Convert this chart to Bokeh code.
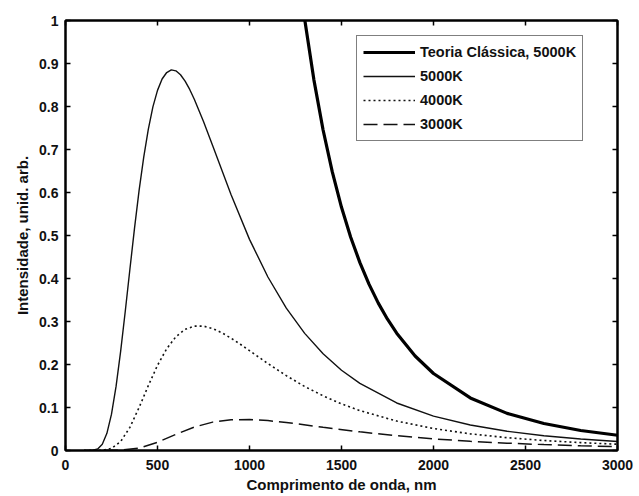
from bokeh.plotting import figure
from bokeh.models import LinearAxis, FixedTicker, Legend, LegendItem, Range1d, CustomLabelingPolicy
from bokeh.embed import file_html
from bokeh.resources import INLINE

# ---- data ----
# wavelength (nm) and intensity (arb. units)
wl_5000 = [100, 150, 175, 200, 225, 250, 275, 300, 325, 350, 375, 400, 425, 450, 475, 500, 525,
           550, 575, 600, 625, 650, 675, 700, 750, 800, 900, 1000, 1100, 1200, 1300, 1400, 1500,
           1600, 1800, 2000, 2200, 2400, 2600, 2800, 3000]
i_5000 = [0.0, 0.0005, 0.0036, 0.0145, 0.0399, 0.0845, 0.1495, 0.2315, 0.3244, 0.4215, 0.5166,
          0.605, 0.6815, 0.747, 0.799, 0.8375, 0.864, 0.879, 0.8853, 0.883, 0.8738, 0.859, 0.8397,
          0.817, 0.765, 0.7085, 0.595, 0.491, 0.4035, 0.331, 0.2724, 0.225, 0.1867, 0.156, 0.1105,
          0.0801, 0.0592, 0.0447, 0.0342, 0.0267, 0.0211]

wl_4000 = [100, 200, 250, 300, 350, 400, 450, 500, 550, 600, 650, 700, 750, 800, 850, 900, 950,
           1000, 1100, 1200, 1300, 1400, 1500, 1600, 1800, 2000, 2200, 2400, 2600, 2800, 3000]
i_4000 = [0.0, 0.0005, 0.005, 0.021, 0.0539, 0.100, 0.1508, 0.198, 0.2367, 0.2647, 0.2817, 0.2892,
          0.2893, 0.2836, 0.2737, 0.2612, 0.2471, 0.2322, 0.2022, 0.174, 0.1488, 0.1272, 0.1085,
          0.0928, 0.0684, 0.0511, 0.0387, 0.0298, 0.0232, 0.0183, 0.0146]

wl_3000 = [100, 300, 400, 500, 600, 700, 800, 900, 1000, 1100, 1200, 1400, 1600, 1800, 2000, 2200,
           2400, 2600, 2800, 3000]
i_3000 = [0.0, 0.0008, 0.0053, 0.019, 0.0376, 0.0545, 0.066, 0.0714, 0.0721, 0.0695, 0.0651,
          0.0541, 0.0434, 0.0343, 0.0271, 0.0214, 0.0170, 0.0137, 0.0110, 0.0090]

wl_cls = [1250, 1300, 1350, 1400, 1450, 1500, 1550, 1600, 1650, 1700, 1750, 1800, 1900, 2000,
          2200, 2400, 2600, 2800, 3000]
i_cls = [1.173, 1.0026, 0.862, 0.7454, 0.6478, 0.5656, 0.4961, 0.4369, 0.3863, 0.3428, 0.3053,
         0.2728, 0.2197, 0.179, 0.1222, 0.0863, 0.0627, 0.0466, 0.0354]

x_ticks = [0, 500, 1000, 1500, 2000, 2500, 3000]
y_ticks = [0, 0.1, 0.2, 0.3, 0.4, 0.5, 0.6, 0.7, 0.8, 0.9, 1]
y_tick_labels = ["0", "0.1", "0.2", "0.3", "0.4", "0.5", "0.6", "0.7", "0.8", "0.9", "1"]

labels = ["Teoria Clássica, 5000K", "5000K", "4000K", "3000K"]
x_label = "Comprimento de onda, nm"
y_label = "Intensidade, unid. arb."

FONT = "Liberation Sans"
INK = "#111111"

p = figure(width=639, height=496, output_backend="svg", toolbar_location=None,
           x_range=Range1d(0, 3000), y_range=Range1d(0, 1),
           min_border_left=65, min_border_right=19, min_border_top=20, min_border_bottom=46)
p.xaxis.visible = False
p.yaxis.visible = False
p.grid.visible = False
p.outline_line_color = "black"
p.outline_line_width = 2
p.background_fill_color = "white"
p.border_fill_color = "white"

hide_all = CustomLabelingPolicy(code="""
const n = indices.size
for (let i = 0; i < n; i++) indices.unset(i)
return indices
""")

def style(ax, ticks):
    ax.ticker = FixedTicker(ticks=ticks)
    ax.major_tick_in = 5
    ax.major_tick_out = 0
    ax.minor_tick_in = 0
    ax.minor_tick_out = 0
    ax.axis_line_color = "black"
    ax.axis_line_width = 2
    ax.major_tick_line_width = 1.5
    ax.major_label_text_font = FONT
    ax.major_label_text_font_style = "bold"
    ax.major_label_text_font_size = "14px"
    ax.major_label_text_color = INK
    ax.axis_label_text_font = FONT
    ax.axis_label_text_font_style = "bold"
    ax.axis_label_text_font_size = "15px"
    ax.axis_label_text_color = INK

xb = LinearAxis(axis_label=x_label)
style(xb, x_ticks)
xb.major_label_standoff = 9
xb.axis_label_standoff = 3
p.add_layout(xb, "below")

yl = LinearAxis(axis_label=y_label)
style(yl, y_ticks)
yl.major_label_overrides = {t: s for t, s in zip(y_ticks, y_tick_labels)}
yl.major_label_standoff = 7
yl.axis_label_standoff = 5
p.add_layout(yl, "left")

xa = LinearAxis()
style(xa, x_ticks)
xa.major_label_policy = hide_all
xa.major_label_standoff = 0
p.add_layout(xa, "above")

yr = LinearAxis()
style(yr, y_ticks)
yr.major_label_policy = hide_all
yr.major_label_standoff = 0
p.add_layout(yr, "right")

r_cls = p.line(wl_cls, i_cls, line_color="black", line_width=3.2)
r5 = p.line(wl_5000, i_5000, line_color=INK, line_width=1.4)
r4 = p.line(wl_4000, i_4000, line_color=INK, line_width=1.6, line_dash="2 3")
r3 = p.line(wl_3000, i_3000, line_color=INK, line_width=1.5, line_dash="14 6")

legend = Legend(items=[LegendItem(label=labels[0], renderers=[r_cls]),
                       LegendItem(label=labels[1], renderers=[r5]),
                       LegendItem(label=labels[2], renderers=[r4]),
                       LegendItem(label=labels[3], renderers=[r3])],
                location=(291, 309))
legend.label_text_font = FONT
legend.label_text_font_style = "bold"
legend.label_text_font_size = "14.5px"
legend.label_text_color = INK
legend.glyph_width = 52
legend.glyph_height = 20
legend.label_height = 20
legend.label_standoff = 5
legend.spacing = 4
legend.padding = 6
legend.margin = 0
legend.border_line_color = "black"
legend.border_line_width = 1.5
legend.background_fill_color = "white"
legend.background_fill_alpha = 1
p.add_layout(legend, "center")

open("out.html", "w").write(file_html(p, INLINE))
